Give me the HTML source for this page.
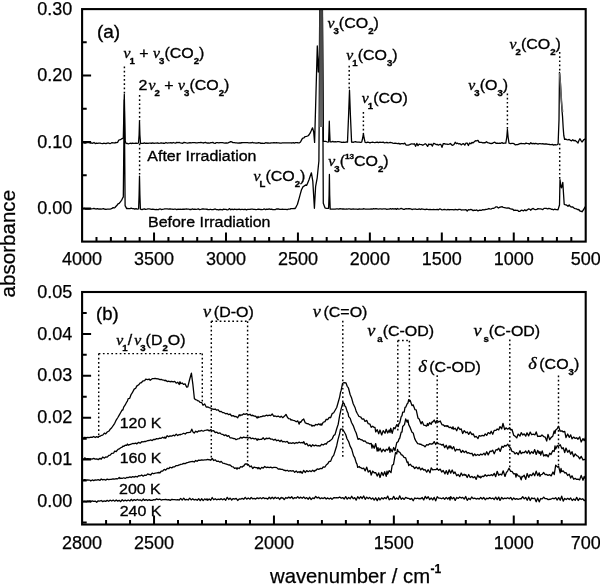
<!DOCTYPE html>
<html><head><meta charset="utf-8"><style>html,body{margin:0;padding:0;background:#fff;}svg{display:block;will-change:transform;}</style></head>
<body><svg width="600" height="585" viewBox="0 0 600 585">
<defs><clipPath id="ca"><rect x="82.1" y="9.1" width="503.60" height="232.50"/></clipPath><clipPath id="cb"><rect x="82.1" y="292.0" width="503.60" height="232.50"/></clipPath><linearGradient id="gcol" x1="0" y1="0" x2="0" y2="1"><stop offset="0" stop-color="#444"/><stop offset="0.6" stop-color="#555"/><stop offset="1" stop-color="#6a6a6a"/></linearGradient></defs>
<rect width="600" height="585" fill="#fff"/>
<g clip-path="url(#ca)">
<path d="M83.20 142.60 84.40 143.13 85.60 143.14 86.80 142.59 88.00 142.71 89.20 142.69 90.40 143.13 92.00 143.00 92.80 143.28 94.00 142.40 95.20 143.63 96.40 143.08 97.60 143.38 98.80 143.12 100.00 143.20 101.20 143.41 102.40 143.58 103.60 143.27 104.80 143.34 106.00 143.68 107.20 143.18 108.40 143.01 110.00 143.60 110.80 143.27 112.00 142.69 113.20 142.93 114.40 142.91 115.00 143.00 115.60 142.36 116.80 142.60 117.60 142.40 118.70 140.30 119.20 139.88 120.40 139.66 121.00 139.30 121.60 138.89 122.80 138.42 123.30 138.00 124.30 94.50 125.20 141.00 126.00 143.40 127.60 143.52 128.80 143.77 130.00 143.22 131.20 143.42 131.80 143.60 132.40 143.12 133.60 143.47 134.80 143.46 136.00 143.04 137.20 143.46 138.50 143.00 139.10 135.00 139.50 121.00 139.90 135.00 140.50 143.30 142.00 143.44 143.20 143.42 144.40 142.82 145.60 143.33 146.80 143.17 148.00 143.41 149.20 143.10 150.00 143.20 151.60 143.25 152.80 142.93 154.00 143.27 155.20 143.07 156.40 143.19 157.60 142.92 158.80 143.29 160.00 143.15 161.20 142.93 162.40 143.11 163.60 143.23 164.80 143.34 166.00 142.50 167.20 143.07 168.40 142.94 170.00 142.80 170.80 142.55 172.00 143.10 173.20 142.49 174.40 142.92 175.60 143.09 176.80 142.39 178.00 142.70 179.20 142.45 180.40 142.82 181.60 143.12 182.80 143.24 184.00 142.33 185.20 142.61 186.40 142.91 187.60 143.12 188.80 142.84 190.00 142.56 191.20 142.80 192.40 142.72 193.60 142.67 194.80 142.54 196.00 142.81 197.20 142.78 198.40 142.68 200.00 142.70 200.80 142.40 202.00 142.59 203.20 143.00 204.40 142.67 205.60 142.38 206.80 143.04 208.00 142.85 209.20 143.23 210.40 142.75 211.60 142.63 212.80 142.41 214.00 143.06 215.20 143.36 216.40 142.57 217.60 142.61 218.80 142.91 220.00 142.58 221.20 142.71 222.40 142.70 223.60 142.83 224.80 143.04 226.00 142.80 227.20 143.01 228.00 142.80 229.60 142.16 230.70 141.60 232.00 141.89 233.00 142.70 234.40 142.57 235.60 142.85 236.80 142.85 238.00 143.04 239.20 142.93 240.40 142.99 241.60 142.74 242.80 142.61 244.00 142.61 245.20 142.68 246.40 142.54 247.60 142.68 248.80 142.80 250.00 142.88 251.20 142.76 252.40 142.41 253.60 142.84 254.80 142.91 256.00 143.12 257.20 143.01 258.40 142.74 260.00 142.90 260.80 143.36 262.00 143.07 263.20 143.31 264.40 143.38 265.60 142.72 266.80 142.99 268.00 143.00 269.20 143.03 270.40 143.02 271.60 142.95 272.80 142.94 274.00 142.56 275.20 142.86 276.40 142.73 277.60 142.93 278.80 142.80 280.00 143.04 281.20 143.08 282.40 142.97 283.60 142.97 284.80 142.92 286.00 142.80 287.20 142.86 288.40 142.79 290.00 142.90 290.80 142.89 292.00 143.01 293.20 142.57 294.40 143.05 295.60 142.67 296.80 142.67 298.00 142.77 299.50 142.80 300.50 142.00 301.60 139.86 302.30 138.70 302.80 138.16 304.00 137.79 304.70 137.00 305.20 136.57 306.40 136.44 307.70 136.00 308.80 135.12 310.10 133.20 311.20 130.84 312.50 127.80 313.70 131.90 314.60 142.40 316.00 92.65 317.30 46.00 318.30 72.00 319.40 55.00 319.75 10.00 319.80 -60.00 320.80 -60.03 322.40 -60.00 322.45 10.00 323.40 141.40 324.40 141.35 325.60 141.30 326.80 141.75 328.00 142.17 328.60 141.80 329.00 131.00 329.30 121.20 329.60 131.00 330.10 141.90 331.60 141.94 332.80 141.35 334.00 141.99 335.20 141.70 336.40 141.80 337.60 141.61 338.80 141.61 340.00 141.77 341.20 142.24 342.40 142.47 343.60 142.05 344.80 142.35 346.00 142.01 347.50 142.10 348.60 115.00 349.50 90.20 350.40 115.00 351.60 142.10 353.20 142.27 354.40 141.90 355.60 141.74 356.80 142.09 358.00 142.11 359.20 142.08 360.40 142.46 361.70 142.20 362.70 138.00 363.40 133.50 364.10 138.00 365.10 142.30 366.40 142.58 367.60 142.17 368.80 142.48 370.00 142.84 371.20 142.49 372.40 142.07 373.60 142.42 374.80 142.60 376.00 142.33 377.20 142.06 378.40 142.66 380.00 142.20 380.80 142.40 382.00 142.33 383.20 142.06 384.40 142.85 385.60 142.68 386.80 142.31 388.00 142.91 389.20 142.68 390.40 142.30 391.60 142.74 392.80 143.15 394.00 143.39 395.00 143.20 396.40 143.33 397.60 143.56 398.80 143.27 400.00 144.09 401.20 143.58 402.40 143.72 403.60 143.91 404.80 143.14 406.00 145.00 407.20 145.09 408.40 145.14 409.60 144.68 410.80 144.15 412.00 143.75 413.20 144.23 414.40 143.76 415.60 146.32 416.80 143.38 418.00 145.60 419.20 144.08 420.00 144.40 421.60 144.58 422.80 145.24 424.00 144.46 425.20 143.74 426.40 144.59 427.60 146.35 428.80 143.98 430.00 144.54 431.20 144.17 432.40 146.11 433.60 143.34 434.80 143.69 436.00 144.57 437.20 144.40 438.40 145.21 440.00 144.30 440.80 144.37 442.00 147.35 443.20 143.77 444.40 143.65 445.60 144.08 446.80 144.04 448.00 144.48 449.20 144.05 450.40 143.52 451.60 144.78 452.80 145.30 454.00 144.51 455.20 142.24 456.40 143.65 457.60 143.20 458.80 143.98 460.00 143.60 461.20 144.89 462.40 143.89 463.60 143.76 464.80 145.18 466.00 143.03 467.20 143.13 468.40 145.52 469.60 143.01 470.80 143.80 472.00 142.50 473.20 142.83 474.40 141.63 475.60 140.73 476.30 140.80 476.80 140.75 478.00 140.45 479.20 142.43 480.00 142.40 481.60 142.39 482.80 142.88 484.00 142.71 485.20 142.74 486.40 141.79 487.60 142.62 488.80 142.94 490.00 143.36 491.20 143.49 492.40 143.40 493.60 142.54 494.80 142.22 496.00 143.24 497.20 143.10 498.40 143.47 500.00 143.20 500.80 143.28 502.00 142.68 503.20 143.36 504.40 143.04 505.80 143.20 506.80 137.00 507.40 129.50 508.10 137.00 509.00 143.20 510.40 143.56 512.00 143.40 512.80 143.41 514.00 143.70 515.20 144.83 516.70 144.60 517.60 144.67 518.80 144.10 520.00 143.60 521.20 143.34 522.40 143.64 523.60 143.69 524.80 143.82 526.00 143.16 527.20 143.39 528.40 143.57 529.60 144.16 530.80 142.77 532.00 143.75 533.20 143.41 534.40 143.75 535.60 143.43 536.80 143.73 538.00 144.15 539.20 143.72 540.00 143.60 541.60 143.86 542.80 143.56 544.00 144.11 545.00 144.00 546.40 143.86 547.60 144.25 548.80 144.30 550.00 144.50 551.20 144.53 552.40 144.41 553.60 145.15 555.00 144.70 556.00 144.98 557.20 144.56 558.10 144.20 559.00 120.00 559.50 72.30 560.30 80.00 561.00 95.00 561.80 108.00 562.50 116.00 563.20 128.00 563.80 135.50 564.60 139.30 565.60 139.01 566.80 139.67 568.00 139.78 569.20 139.40 570.00 140.10 571.60 140.92 572.80 139.69 574.00 140.90 575.00 140.30 576.40 141.39 578.00 143.00 578.80 140.77 580.00 138.70 581.20 140.85 582.00 142.00 584.00 139.50 584.80 139.17 586.00 140.00" stroke="#000" stroke-width="1.3" fill="none" stroke-linejoin="round"/>
<path d="M559.6 73 L561.4 100 L562.6 112" stroke="#666" stroke-width="1.6" fill="none"/>
<path d="M83.20 208.80 84.40 208.36 85.60 209.10 86.80 208.89 88.00 209.12 89.20 209.13 90.40 208.81 91.60 208.86 92.80 208.69 94.00 208.41 95.20 208.91 96.40 208.99 97.60 208.70 98.80 209.16 100.00 209.00 101.20 209.13 102.40 208.85 103.60 208.63 104.80 209.29 106.00 209.27 107.20 209.11 108.40 209.06 110.00 209.20 110.80 208.89 112.00 208.39 113.20 207.61 114.40 207.90 115.00 207.50 115.60 206.76 116.80 205.46 117.30 205.00 118.00 203.85 119.20 203.29 120.40 201.89 120.90 201.20 121.60 200.29 122.80 197.67 123.30 197.00 124.30 100.00 125.10 205.60 126.70 208.60 127.60 208.48 128.80 208.61 130.00 208.72 131.20 208.22 132.40 208.53 133.60 208.56 134.80 209.13 136.00 208.59 137.20 209.17 138.60 208.80 139.10 195.00 139.50 176.20 139.90 195.00 140.40 209.20 142.00 209.63 143.20 209.07 144.40 208.89 145.60 209.46 146.80 209.22 148.00 208.89 149.20 208.93 150.40 209.10 151.60 209.44 152.80 209.13 154.00 209.36 155.20 209.61 156.40 209.52 157.60 209.56 158.80 209.51 160.00 208.80 161.20 209.51 162.40 209.28 163.60 209.17 164.80 208.93 166.00 208.80 167.20 208.92 168.40 209.19 169.60 208.91 170.80 209.00 172.00 209.05 173.20 209.37 174.40 209.13 175.60 209.16 176.80 209.53 178.00 209.12 179.20 209.35 180.00 209.20 181.60 209.29 182.80 209.24 184.00 209.26 185.20 209.11 186.40 208.97 187.60 209.16 188.80 209.13 190.00 209.51 191.20 209.48 192.40 208.96 193.60 209.42 194.80 209.15 196.00 209.39 197.20 209.17 198.40 208.92 199.60 209.55 200.80 209.42 202.00 209.00 203.20 208.84 204.40 209.19 205.60 209.03 206.80 209.24 208.00 209.50 209.20 209.71 210.40 209.26 211.60 209.70 212.80 209.66 214.00 209.26 215.20 208.96 216.40 209.60 217.60 209.54 218.80 209.98 220.00 209.40 221.20 209.59 222.40 209.82 223.60 209.13 224.80 209.44 226.00 209.32 227.20 209.82 228.40 209.52 229.60 208.61 230.80 209.72 232.00 209.14 233.20 209.56 234.40 209.25 235.60 209.42 236.80 209.52 238.00 209.41 239.20 209.12 240.40 209.70 241.60 209.45 242.80 209.34 244.00 209.52 245.20 209.21 246.40 209.81 247.60 209.39 248.80 209.42 250.00 209.42 251.20 209.10 252.40 209.03 253.60 209.37 254.80 209.41 256.00 209.65 257.20 209.42 258.40 209.04 260.00 209.30 260.80 209.51 262.00 209.55 263.20 209.38 264.40 208.98 265.60 209.58 266.80 209.10 268.00 209.42 269.20 208.88 270.40 209.46 271.60 209.07 272.80 209.53 274.00 209.70 275.20 209.55 276.40 208.96 277.60 209.01 278.80 209.02 280.00 209.40 281.20 209.32 282.40 209.27 283.60 209.30 284.80 209.37 286.00 209.38 287.20 209.64 288.40 209.20 290.00 209.20 290.80 208.64 292.00 208.63 293.20 208.65 294.40 208.38 295.00 208.60 295.60 207.84 296.80 205.42 297.40 204.50 298.00 202.22 299.20 198.08 300.40 193.61 301.50 189.80 303.10 186.60 304.00 186.11 305.60 185.00 306.70 185.30 307.60 183.17 308.90 180.00 310.00 176.82 311.40 172.80 312.80 181.10 313.60 194.59 314.40 208.30 315.60 186.70 317.20 177.80 318.40 165.79 318.90 161.00 319.85 10.00 319.90 -60.00 320.80 -59.72 322.30 -60.00 322.35 10.00 323.30 203.30 324.40 206.25 325.00 207.80 325.60 208.09 326.80 208.30 328.00 208.27 328.60 208.30 329.10 195.00 329.40 174.40 329.70 195.00 330.20 209.20 331.60 209.09 332.80 209.14 334.00 209.09 335.20 209.13 336.40 208.87 337.60 208.81 338.80 209.14 340.00 208.72 341.20 208.91 342.40 208.98 343.60 208.88 344.80 209.19 346.00 209.02 347.20 209.10 348.40 208.86 349.60 208.93 350.80 209.23 352.00 209.19 353.20 208.98 354.40 209.18 355.60 209.13 356.80 209.12 358.00 209.47 359.20 208.97 360.40 209.17 361.60 209.16 362.80 208.99 364.00 208.76 365.20 209.21 366.40 209.10 367.60 209.04 368.80 209.03 370.00 209.03 371.20 208.79 372.40 209.08 373.60 208.55 374.80 208.99 376.00 208.62 377.20 208.90 378.40 209.16 379.60 208.91 380.80 208.85 382.00 209.09 383.20 208.89 384.40 208.85 385.60 208.85 386.80 209.32 388.00 209.10 389.20 209.05 390.40 208.63 391.60 209.08 392.80 208.59 394.00 209.03 395.20 208.63 396.40 209.39 397.60 208.47 398.80 209.20 400.00 208.90 401.20 208.46 402.40 208.86 403.60 209.30 404.80 209.24 406.00 208.55 407.20 208.86 408.40 208.71 409.60 208.76 410.80 208.88 412.00 209.51 413.20 209.10 414.40 209.03 415.60 209.02 416.80 209.29 418.00 209.31 419.20 208.92 420.40 209.54 421.60 208.92 422.80 209.13 424.00 209.33 425.20 209.66 426.40 209.17 427.60 209.34 428.80 209.61 430.00 209.46 431.20 209.60 432.40 209.60 433.60 209.42 434.80 209.53 436.00 209.62 437.20 209.40 438.40 209.82 439.60 208.94 440.80 209.22 442.00 209.83 443.20 209.60 444.40 209.34 445.60 209.62 446.80 209.81 448.00 209.42 449.20 209.76 450.00 209.60 451.60 209.59 452.80 209.62 454.00 209.97 455.20 209.37 456.40 209.60 457.60 209.93 458.80 209.38 460.00 209.28 461.20 209.99 462.40 209.83 463.60 209.80 464.80 209.92 466.00 209.55 467.20 210.98 468.40 209.58 469.60 209.80 470.80 209.44 472.00 209.85 473.20 210.66 474.40 210.07 475.60 210.34 476.80 209.90 478.00 210.92 479.20 210.23 480.00 210.20 481.60 210.30 482.80 209.61 484.00 209.89 485.20 209.51 486.40 209.40 487.60 209.17 488.80 208.52 490.00 208.80 491.20 209.02 492.40 208.30 493.60 208.29 494.80 207.74 496.00 206.81 497.20 206.95 498.40 207.99 500.00 207.10 500.80 207.01 502.00 206.68 503.20 207.30 504.40 207.55 505.60 207.80 506.80 208.05 508.00 207.97 509.20 208.17 510.00 208.60 511.60 209.15 512.80 209.26 514.00 210.49 515.20 210.07 516.40 210.37 517.60 210.30 518.80 211.44 520.00 211.30 521.20 210.25 522.40 210.33 523.60 210.89 524.80 209.79 526.00 210.76 527.20 209.89 528.40 208.92 530.00 209.40 530.80 210.20 532.00 208.80 533.20 208.50 534.40 209.33 535.60 209.65 536.80 209.42 538.00 208.66 539.20 208.85 540.40 208.84 541.60 209.19 542.80 209.60 544.00 208.38 545.00 208.40 546.40 208.35 547.60 208.96 548.80 208.32 550.00 208.54 551.20 209.29 552.00 209.20 553.60 209.78 554.80 209.16 556.00 209.60 557.20 209.64 558.00 209.80 559.50 205.00 560.00 179.70 560.80 185.67 561.50 187.90 562.00 185.91 562.80 182.40 563.60 195.00 564.20 204.30 566.00 205.00 566.80 205.19 568.00 206.29 569.20 204.95 570.40 206.56 572.00 207.00 572.80 206.82 574.00 208.18 575.20 208.64 576.40 208.83 578.00 209.80 578.80 209.45 580.00 211.11 581.20 211.23 582.00 211.80 584.00 209.00 585.00 207.00 586.00 207.00" stroke="#000" stroke-width="1.3" fill="none" stroke-linejoin="round"/>
<rect x="319.3" y="9" width="3.6" height="118" fill="url(#gcol)"/>
</g>
<g clip-path="url(#cb)">
<path d="M83.20 437.60 84.70 437.32 86.20 437.57 87.70 437.35 89.20 437.70 91.00 437.16 92.20 437.39 93.70 436.49 95.20 437.53 96.70 436.61 98.20 437.39 99.00 436.17 99.70 436.44 101.20 435.47 102.70 435.12 104.40 433.16 105.70 433.80 107.20 432.00 109.00 431.03 110.20 429.16 111.70 427.75 113.50 425.07 114.70 423.28 116.20 420.03 118.00 417.26 119.20 415.12 120.70 412.49 122.20 409.90 122.80 410.13 123.70 407.06 125.20 404.95 126.70 402.04 127.40 401.16 128.20 398.57 129.70 398.27 131.20 394.31 132.20 392.97 134.20 389.14 135.70 388.20 136.70 386.10 138.70 384.80 140.20 382.93 141.20 382.78 143.20 380.79 144.70 380.56 145.70 379.13 147.70 379.66 149.20 379.04 150.20 380.24 152.20 378.69 153.70 378.70 155.20 378.28 156.50 378.75 158.20 378.85 160.00 379.62 161.20 379.30 162.70 380.03 164.20 380.10 165.00 380.85 165.70 380.22 167.20 381.52 168.70 381.05 170.00 381.75 171.70 381.27 173.20 381.81 174.70 381.29 176.20 383.18 177.70 382.20 179.20 384.45 180.00 381.79 180.70 383.69 182.20 382.97 183.70 384.45 185.00 383.76 186.70 387.13 187.80 386.82 189.50 380.00 191.40 373.20 192.80 383.80 194.40 398.74 195.70 399.61 197.20 400.24 198.00 400.91 198.70 400.86 200.20 402.45 201.70 402.55 203.00 405.27 204.70 403.98 206.20 407.04 208.00 406.99 209.20 407.62 210.70 408.07 212.20 409.22 213.00 408.98 213.70 409.36 215.20 409.02 216.70 410.19 218.00 409.74 219.70 411.64 221.20 411.38 222.70 412.68 224.00 412.68 225.70 413.79 227.20 413.43 228.70 414.64 230.00 413.97 231.70 415.99 233.20 415.60 234.70 416.60 236.00 416.46 237.70 417.74 239.20 414.78 240.00 415.78 240.70 414.95 242.20 415.10 243.70 413.78 245.00 414.31 246.70 413.66 248.20 414.86 250.00 414.27 251.20 415.61 252.70 415.25 254.20 416.17 255.70 416.23 257.20 417.96 258.00 416.44 258.70 417.53 260.20 416.75 261.70 416.69 263.20 415.86 264.70 416.08 266.20 415.24 268.00 415.75 269.20 415.03 270.70 415.64 272.20 413.98 273.70 416.26 275.20 416.01 276.70 416.70 278.20 416.06 280.00 417.22 281.20 416.14 282.70 417.67 284.60 416.12 286.00 414.40 287.40 417.29 288.70 418.70 290.20 418.95 291.00 420.02 291.70 419.77 293.20 420.41 294.70 420.72 296.20 421.76 297.70 420.83 299.20 424.17 300.00 421.75 300.70 422.28 302.20 420.09 303.00 419.63 303.70 419.02 305.20 422.82 306.00 423.07 306.70 423.54 308.20 423.76 309.70 424.84 311.20 424.80 312.00 426.25 312.70 425.38 314.20 425.96 315.70 424.44 317.20 425.00 318.70 423.87 320.20 425.12 321.00 423.78 321.70 425.15 323.20 422.26 325.00 421.63 326.20 419.27 327.70 419.61 329.20 417.35 330.60 417.74 332.20 413.60 333.70 412.73 335.00 410.49 336.70 407.52 338.20 402.23 339.70 396.85 340.50 392.40 341.20 390.24 342.50 383.52 344.00 382.56 346.00 382.92 347.20 386.25 348.50 388.22 350.20 394.76 351.50 397.69 353.20 403.77 355.00 407.42 356.20 411.35 357.30 413.48 359.00 416.46 360.70 417.00 362.20 419.09 363.70 418.80 365.00 421.44 366.70 420.36 368.20 423.70 370.00 424.15 371.20 427.29 372.70 426.25 374.20 427.47 375.00 427.48 375.70 431.94 377.20 429.63 378.70 433.76 380.00 429.99 381.70 434.94 383.20 430.60 385.00 433.25 386.20 429.29 387.70 433.02 389.20 429.96 390.00 432.58 390.70 428.27 392.20 433.30 393.70 427.56 395.00 428.76 396.70 424.72 398.20 426.51 399.00 423.44 399.70 422.92 401.20 416.64 402.00 415.72 402.70 412.06 404.20 412.01 405.00 407.45 405.70 407.17 407.20 403.71 408.00 402.92 408.70 399.57 409.60 401.20 410.20 400.56 412.00 405.63 413.20 404.91 415.00 409.69 416.20 409.81 418.00 418.12 419.20 418.92 421.00 423.83 422.20 421.61 423.70 425.04 425.00 425.34 426.70 426.03 427.50 423.51 428.20 425.47 429.70 422.68 431.20 424.24 432.00 421.93 432.70 422.01 434.20 420.03 435.70 423.13 437.00 420.36 438.70 421.97 440.20 420.97 442.00 424.79 443.20 424.79 444.70 426.31 446.20 425.58 447.00 426.55 447.70 425.76 449.20 427.61 450.70 427.24 452.20 428.70 453.00 426.74 453.70 429.21 455.20 428.23 456.70 430.73 458.20 427.07 460.00 429.52 461.20 428.83 462.70 433.47 464.20 430.63 466.00 432.73 467.20 431.96 468.70 434.33 470.20 431.84 472.00 434.69 473.20 433.86 474.70 437.09 476.20 436.41 478.00 438.56 479.20 435.62 480.70 436.22 482.20 435.38 484.00 435.78 485.20 433.90 486.70 435.40 488.20 432.56 490.00 433.78 491.20 431.23 492.70 434.20 494.20 430.37 496.00 430.40 497.20 428.98 498.70 429.94 500.00 426.56 501.70 428.75 503.00 423.50 504.70 429.59 506.00 427.87 507.70 429.18 509.50 427.62 510.70 429.86 512.00 429.45 513.70 435.28 515.00 436.10 516.70 437.93 518.20 434.08 520.00 435.95 521.20 432.65 522.70 434.95 524.20 433.86 525.70 436.14 527.00 432.82 528.70 435.81 530.20 432.06 531.70 434.74 533.20 434.14 535.00 434.83 536.20 431.96 537.70 436.48 539.20 436.11 540.70 436.32 542.00 434.97 543.70 436.53 545.20 437.13 546.70 441.01 548.00 434.38 549.70 439.74 551.00 437.63 552.70 436.30 554.20 430.83 555.00 433.49 555.70 429.91 557.20 428.80 558.50 426.27 560.20 431.18 562.00 430.81 563.20 431.98 564.70 431.31 566.00 437.51 567.70 433.99 569.20 437.35 570.70 434.85 572.00 438.79 573.70 437.08 575.20 438.41 576.70 437.72 578.00 439.24 579.70 436.88 581.20 442.00 583.00 438.68 584.20 440.68 586.00 436.55" stroke="#000" stroke-width="1.3" fill="none" stroke-linejoin="round"/>
<path d="M83.20 459.57 84.70 457.83 86.20 459.08 87.70 458.54 89.20 458.92 90.70 458.88 92.00 459.10 93.70 458.36 95.20 459.16 96.70 458.80 98.20 459.65 100.00 458.38 101.20 459.21 102.70 457.05 104.40 458.11 105.70 457.00 107.20 457.16 109.00 455.31 110.20 455.15 111.70 453.32 113.50 453.20 114.70 451.07 116.20 451.51 118.00 449.29 119.20 448.96 120.70 447.76 122.20 447.14 122.80 446.14 123.70 446.38 125.20 445.19 126.70 445.30 127.40 444.00 128.20 445.21 129.70 444.54 131.20 444.03 132.70 443.50 134.20 443.60 135.70 443.10 136.70 443.86 138.70 442.34 140.20 443.20 141.70 441.68 143.20 441.81 144.70 441.36 145.70 441.49 147.70 440.68 149.20 440.50 150.70 439.97 152.20 440.56 153.70 439.31 155.20 439.50 156.50 438.67 158.20 438.79 159.70 438.07 161.20 438.32 162.70 437.22 164.20 438.10 165.00 436.96 165.70 438.24 167.20 435.70 168.70 436.75 170.00 435.92 171.70 436.07 173.20 435.19 174.70 435.77 176.20 434.09 177.70 435.60 179.20 434.49 180.00 434.88 180.70 434.37 182.20 434.05 183.70 433.24 185.20 434.04 186.70 432.66 188.00 432.54 189.70 432.30 190.50 432.20 191.20 430.58 191.80 429.20 193.00 432.00 194.20 433.15 195.70 431.21 197.20 432.16 198.70 430.80 200.00 431.16 201.70 430.46 203.20 431.21 204.70 430.48 206.20 430.21 207.70 429.83 209.20 430.90 211.00 429.61 212.20 430.84 213.70 430.73 215.20 432.53 216.70 432.10 218.20 433.39 220.00 432.84 221.20 434.08 222.70 434.34 224.20 435.55 225.70 434.83 227.20 436.28 228.70 435.68 230.00 437.76 231.70 437.80 233.20 438.52 234.70 438.58 236.00 439.71 237.70 438.86 239.20 438.72 240.70 437.19 242.00 438.12 243.70 437.05 245.20 437.52 246.70 437.32 248.20 438.18 250.00 437.41 251.20 438.75 252.70 438.13 254.20 439.01 255.70 438.46 257.20 440.27 258.00 438.74 258.70 439.59 260.20 439.41 261.70 439.27 263.20 437.81 264.70 439.59 266.20 438.25 268.00 438.62 269.20 437.95 270.70 439.12 272.20 439.05 273.70 440.17 275.20 439.24 276.70 440.78 278.20 440.05 280.00 441.48 281.20 440.25 282.70 441.93 284.20 441.49 285.70 442.03 287.20 441.34 288.70 443.26 290.00 442.90 291.70 443.39 293.20 442.71 294.70 443.56 296.20 442.52 297.70 443.04 299.20 442.13 300.70 442.95 302.20 442.42 303.00 443.12 303.70 441.66 305.20 444.52 306.70 443.41 308.20 445.87 310.00 444.90 311.20 446.60 312.70 444.71 314.20 445.89 315.70 445.07 317.20 445.86 318.70 445.63 320.00 446.16 321.70 444.25 323.20 445.05 325.00 443.65 326.20 444.21 327.70 441.98 329.20 441.38 330.60 440.27 332.20 438.87 333.70 435.58 335.00 434.65 336.70 428.73 338.20 424.18 339.70 415.40 340.50 411.81 341.20 408.62 343.00 402.49 344.20 403.78 345.00 406.33 345.70 406.79 347.20 411.58 348.00 412.96 348.70 416.60 350.20 418.41 351.50 422.52 353.20 425.56 355.00 430.49 356.20 432.98 358.00 439.36 359.20 438.59 360.70 439.71 362.20 439.99 363.70 441.26 365.00 440.88 366.70 442.90 368.20 442.99 369.70 443.83 371.20 443.46 372.00 448.15 372.70 444.98 374.20 448.26 375.70 443.55 377.20 451.01 378.00 447.72 378.70 450.91 380.20 448.30 381.70 451.90 383.20 449.25 385.00 451.45 386.20 449.19 387.70 450.17 389.20 447.03 390.00 452.32 390.70 448.79 392.20 451.78 393.70 447.49 395.00 450.64 396.70 442.84 398.20 441.48 399.00 438.96 399.70 438.23 401.20 432.11 402.00 432.00 402.70 426.50 404.50 424.60 405.70 418.95 407.20 422.19 408.00 420.01 408.70 424.62 410.20 427.65 412.00 432.31 413.20 433.04 414.70 438.61 416.00 441.14 417.70 443.62 419.20 443.84 420.00 444.42 420.70 444.06 422.20 445.20 423.70 445.55 425.00 446.85 426.70 444.56 428.20 445.09 429.70 443.69 431.20 444.23 432.00 443.71 432.70 443.82 434.20 441.62 435.70 444.48 437.00 442.28 438.70 443.87 440.20 444.06 442.00 445.13 443.20 444.21 444.70 447.67 446.20 445.26 447.70 449.07 449.20 445.84 450.00 447.99 450.70 446.03 452.20 448.94 453.70 446.67 455.20 451.10 456.70 449.20 458.00 449.92 459.70 449.29 461.20 452.53 462.70 450.51 464.20 452.46 466.00 451.09 467.20 453.10 468.70 452.70 470.20 453.66 472.00 453.26 473.20 455.87 474.70 453.97 476.00 455.46 477.70 454.47 479.20 455.45 480.70 454.09 482.20 454.86 484.00 453.24 485.20 455.07 486.70 451.74 488.20 454.90 490.00 451.23 491.20 451.50 492.70 450.26 494.20 453.71 496.00 449.64 497.20 450.00 498.70 448.27 500.20 451.44 502.00 446.27 503.20 447.32 504.70 445.39 506.00 446.06 507.70 444.17 509.00 446.43 510.70 448.31 512.00 451.46 513.70 451.79 515.00 453.91 516.70 452.60 518.20 454.63 520.00 450.69 521.20 453.67 522.70 452.30 524.20 452.70 525.70 451.00 527.20 453.28 528.70 450.46 530.00 453.96 531.70 451.73 533.20 453.39 534.70 449.59 536.20 454.45 537.70 450.40 539.20 453.41 540.00 451.59 540.70 455.05 542.20 450.88 543.70 456.06 545.20 454.66 546.00 456.04 546.70 454.58 548.20 456.88 549.70 453.12 551.00 454.51 552.70 450.68 554.20 451.52 555.00 446.00 555.70 448.99 557.20 445.70 558.50 446.36 560.20 444.74 562.00 448.79 563.20 447.59 564.70 452.52 566.00 448.04 567.70 452.25 569.20 450.29 570.70 454.23 572.00 451.70 573.70 456.71 575.20 453.84 576.70 455.67 578.00 456.23 579.70 458.82 581.20 456.31 583.00 460.05 584.20 459.29 586.00 460.34" stroke="#000" stroke-width="1.3" fill="none" stroke-linejoin="round"/>
<path d="M83.20 480.02 84.70 479.70 86.20 480.07 87.70 479.97 89.20 480.22 90.00 480.08 90.70 480.95 92.20 479.95 93.70 480.62 95.20 479.91 96.70 480.19 98.20 479.69 100.00 480.38 101.20 478.99 102.70 479.88 104.20 479.48 105.70 480.11 107.20 479.05 108.70 479.60 110.00 479.39 111.70 479.23 113.20 478.79 114.70 479.07 116.20 478.60 117.70 478.87 119.20 477.51 120.00 478.59 120.70 478.07 122.20 478.47 123.70 477.78 125.20 478.44 126.70 477.47 128.20 477.65 130.00 476.91 131.20 477.54 132.70 476.56 134.20 477.17 135.70 476.37 137.20 476.99 138.70 475.71 140.00 475.95 141.70 474.96 143.20 476.19 144.70 475.05 146.20 475.36 147.70 473.94 149.20 474.62 150.00 474.47 150.70 475.02 152.20 473.06 153.70 473.75 155.20 473.14 156.70 472.96 158.20 472.51 160.00 472.73 161.20 471.23 162.70 471.00 164.20 469.35 165.70 470.17 167.20 468.28 168.70 468.70 170.00 467.24 171.70 467.91 173.20 466.88 174.70 466.80 176.20 465.56 177.70 465.53 179.20 464.91 180.00 464.81 180.70 464.29 182.20 464.09 183.70 463.34 185.20 463.65 186.70 462.74 188.20 462.45 190.00 461.80 191.20 461.57 192.70 461.29 194.20 462.00 195.70 460.53 197.20 461.30 198.70 460.03 200.00 460.44 201.70 459.80 203.20 460.03 204.70 459.81 206.20 459.83 207.70 459.35 209.20 459.87 210.00 459.76 210.70 460.21 212.20 458.47 213.70 460.49 215.20 459.79 216.70 461.35 218.20 461.08 220.00 462.32 221.20 461.35 222.70 463.15 224.20 463.30 225.70 463.98 227.20 464.46 228.70 464.99 230.00 464.86 231.70 466.54 233.20 466.89 234.70 468.46 236.20 467.89 237.00 469.23 237.70 467.84 239.20 468.52 240.70 466.71 242.20 467.15 243.00 466.08 243.70 465.99 245.20 463.98 247.00 463.83 248.20 464.47 250.00 466.82 251.20 465.92 252.70 468.51 254.20 467.05 255.70 467.60 257.20 467.74 258.00 468.80 258.70 467.54 260.20 469.18 261.70 467.37 263.20 468.07 264.70 466.45 266.20 467.61 267.70 467.17 269.20 467.59 270.70 467.13 272.20 467.82 273.70 467.34 275.00 467.39 276.70 467.64 278.20 469.03 279.70 469.00 281.20 469.36 282.70 469.43 284.20 470.51 285.00 470.17 285.70 470.85 287.20 470.23 288.70 471.22 290.20 470.56 291.70 471.12 293.20 470.60 294.70 472.32 296.20 471.05 297.70 472.48 299.20 471.61 300.00 472.72 300.70 471.41 302.20 473.23 303.70 470.33 305.20 472.50 306.70 470.61 308.20 471.67 309.70 470.68 311.20 471.61 312.70 470.18 314.20 471.49 315.00 470.33 315.70 470.56 317.20 468.95 318.70 469.41 320.20 468.45 322.00 468.67 323.20 466.99 325.00 467.03 326.20 465.00 327.70 463.78 329.20 461.40 330.60 461.39 332.20 457.22 333.70 455.33 335.00 451.32 336.70 445.71 338.00 439.57 339.70 433.37 340.50 429.24 341.70 429.13 342.70 429.20 344.00 431.53 345.70 434.54 347.00 438.72 348.70 441.73 350.00 445.93 351.70 449.08 353.50 455.65 354.70 457.55 356.20 462.67 357.00 464.08 357.70 467.45 359.20 466.52 360.00 467.49 360.70 467.56 362.20 468.71 363.70 468.18 365.20 470.83 366.70 467.14 368.20 472.02 370.00 470.42 371.20 475.03 372.70 471.09 374.20 472.74 375.70 472.55 377.20 476.07 378.70 472.91 380.00 477.47 381.70 472.30 383.20 475.56 384.70 471.79 386.20 476.40 387.00 471.09 387.70 474.04 389.20 470.63 391.00 472.66 392.20 465.19 393.50 464.42 395.50 452.55 396.70 453.93 397.50 449.45 398.20 451.42 400.00 452.53 401.20 454.65 402.70 455.38 404.00 457.30 405.70 457.96 407.20 462.62 408.00 461.89 408.70 465.58 410.20 464.12 412.00 466.39 413.20 466.49 414.70 468.52 416.20 467.03 418.00 468.78 419.20 467.22 420.70 469.89 422.20 468.27 423.70 470.02 425.00 469.52 426.70 472.18 428.20 469.71 430.00 472.78 431.20 467.85 432.70 469.90 434.20 469.55 435.70 469.72 437.00 468.85 438.70 470.35 440.20 469.10 441.70 472.07 443.20 470.53 445.00 473.90 446.20 470.61 447.70 474.32 449.20 469.80 450.70 473.15 452.20 470.04 453.70 473.59 455.00 471.97 456.70 475.77 458.20 474.50 459.70 476.65 461.20 473.00 462.70 475.63 464.20 474.27 465.00 475.40 465.70 474.60 467.20 477.51 468.70 474.53 470.20 477.49 472.00 476.37 473.20 477.79 474.70 476.67 476.20 479.36 477.70 475.11 479.20 477.26 480.00 476.29 480.70 477.91 482.20 476.22 483.70 476.54 485.20 474.76 486.70 476.16 488.20 475.06 490.00 475.58 491.20 474.66 492.70 475.62 494.20 473.39 495.70 476.63 497.20 471.30 498.70 475.21 500.00 474.14 501.70 474.95 503.20 470.81 505.00 476.44 506.20 472.92 507.70 470.76 509.00 468.22 510.70 471.39 512.00 471.37 513.70 473.94 515.20 473.72 516.00 477.17 516.70 473.78 518.20 475.99 519.70 476.07 521.20 479.82 522.00 476.31 522.70 476.88 524.20 475.18 525.70 479.40 527.20 473.52 528.70 477.37 530.00 474.56 531.70 475.67 533.20 473.00 534.70 475.77 536.20 471.16 537.70 475.64 539.20 472.82 540.00 476.30 540.70 474.78 542.20 474.24 543.70 472.51 545.20 474.71 546.70 474.47 548.00 475.39 549.70 474.69 551.20 475.88 553.00 472.05 554.20 474.54 555.70 465.15 557.50 467.11 558.70 466.53 560.20 472.93 561.00 468.51 561.70 471.62 563.20 470.86 564.70 472.98 566.00 472.57 567.70 475.50 569.20 474.11 570.70 478.02 572.00 475.75 573.70 479.25 575.20 478.41 576.70 479.43 578.00 479.12 579.70 479.79 581.20 475.36 583.00 480.25 584.20 476.45 586.00 479.82" stroke="#000" stroke-width="1.3" fill="none" stroke-linejoin="round"/>
<path d="M83.20 501.98 84.70 501.35 86.20 501.83 87.70 501.08 89.20 501.45 90.00 500.89 90.70 501.86 92.20 500.83 93.70 501.34 95.20 501.05 96.70 502.24 98.20 500.79 99.70 501.08 101.20 500.49 102.70 501.61 104.20 500.88 105.70 501.37 107.20 500.39 108.70 501.30 110.00 500.18 111.70 500.98 113.20 500.07 114.70 501.18 116.20 500.00 117.70 501.14 119.20 500.36 120.70 501.63 122.20 499.72 123.70 500.99 125.20 500.17 126.70 500.85 128.20 499.96 130.00 500.96 131.20 499.34 132.70 500.76 134.20 499.64 135.70 500.42 137.20 499.44 138.70 500.24 140.20 499.78 141.70 500.82 143.20 499.05 144.70 500.41 146.20 499.63 147.70 500.55 149.20 499.56 150.00 500.31 150.70 500.25 152.20 500.30 153.70 499.63 155.20 499.87 156.70 498.85 158.20 499.72 159.70 499.11 161.20 500.04 162.70 499.57 164.20 499.60 165.70 499.30 167.20 499.96 168.70 499.54 170.20 500.42 172.00 499.26 173.20 499.56 174.70 499.55 176.20 499.89 177.70 499.70 179.20 500.05 180.70 498.43 182.20 500.13 183.70 498.17 185.20 499.98 186.70 499.43 188.20 499.99 189.70 498.19 191.20 499.93 192.70 498.78 194.20 500.00 195.70 499.35 197.20 500.26 198.70 498.68 200.20 500.65 201.70 498.75 203.20 500.56 204.70 498.83 206.20 499.91 207.00 498.77 207.70 500.34 209.20 498.96 210.70 500.28 212.20 497.52 213.70 499.76 215.20 498.65 216.70 499.82 218.20 499.04 219.70 499.63 221.20 498.65 222.70 499.85 224.20 498.63 225.70 500.27 227.20 497.31 228.70 499.46 230.20 498.10 231.70 500.01 233.20 498.54 234.70 499.18 236.20 498.38 237.70 500.45 239.20 498.87 240.70 499.14 242.20 498.39 243.70 499.24 245.20 497.36 246.70 499.16 248.20 497.98 250.00 499.17 251.20 497.47 252.70 498.84 254.20 498.43 255.70 499.06 257.20 497.81 258.70 498.62 260.20 497.74 261.70 498.77 263.20 497.58 264.70 498.60 266.20 498.20 267.70 499.12 269.20 497.25 270.70 498.72 272.20 497.18 273.70 498.75 275.20 497.22 276.70 498.44 278.20 497.53 279.70 499.47 281.20 497.37 282.00 498.18 282.70 497.69 284.20 499.53 285.70 497.53 287.20 498.31 288.70 497.12 290.20 498.15 291.70 496.76 293.20 498.78 294.70 497.63 296.20 498.20 297.70 496.61 299.20 498.25 300.70 497.13 302.20 498.36 303.70 496.86 305.20 498.64 306.70 497.59 308.20 499.21 309.70 497.27 311.20 499.53 312.70 497.85 314.20 498.58 315.70 496.34 317.20 498.01 318.70 497.19 320.20 498.81 321.70 497.90 323.20 498.55 324.70 497.45 326.20 498.96 327.70 497.90 329.20 499.06 330.70 497.92 332.00 499.38 333.70 497.68 335.20 497.77 336.70 497.55 338.20 497.89 339.70 497.03 341.20 498.29 342.70 497.56 344.20 499.01 345.70 496.59 347.20 499.18 348.70 497.51 350.20 498.74 351.70 496.30 353.20 498.74 354.70 497.58 356.20 500.11 357.70 496.71 359.20 498.70 360.70 496.77 362.20 498.45 363.70 496.00 365.20 499.31 366.70 497.11 368.20 498.66 369.70 497.36 371.20 499.15 372.70 497.97 374.20 500.04 375.70 497.75 377.20 500.58 378.70 497.79 380.00 499.95 381.70 497.79 383.20 499.06 384.70 497.58 386.20 498.72 387.70 496.07 389.20 499.82 390.70 498.57 392.20 499.27 393.70 496.37 395.20 499.36 396.70 497.91 398.20 499.41 399.70 495.82 401.20 499.28 402.70 497.97 404.20 499.42 405.70 497.38 407.20 498.23 408.70 498.31 410.20 499.36 411.70 498.42 413.20 500.73 414.70 497.94 416.20 498.72 417.70 498.10 419.20 498.94 420.00 498.31 420.70 498.85 422.20 497.55 423.70 499.93 425.20 496.38 426.70 498.50 428.20 496.75 429.70 499.57 431.20 497.88 432.70 499.92 434.20 497.43 435.70 500.82 437.20 496.68 438.70 498.12 440.20 498.05 441.70 498.78 443.20 497.79 444.70 499.33 446.20 497.41 447.70 498.94 449.20 497.44 450.00 500.18 450.70 496.63 452.20 498.89 453.70 497.37 455.20 500.37 456.70 497.43 458.20 498.42 459.70 497.04 461.20 498.08 462.70 497.35 464.20 499.08 465.70 496.55 467.20 500.32 468.70 498.30 470.20 499.51 471.70 497.05 473.20 498.65 474.70 498.15 476.20 499.03 477.70 498.44 479.20 499.12 480.70 497.54 482.20 499.02 483.70 497.45 485.20 499.76 486.70 498.18 488.20 498.82 489.70 497.63 491.20 498.77 492.70 498.08 494.20 499.49 495.70 497.17 497.20 499.61 498.70 497.08 500.00 500.45 501.70 497.33 503.20 499.00 504.70 498.11 506.20 498.64 507.70 497.78 509.20 498.80 510.70 497.47 512.20 499.86 513.70 497.97 515.20 499.31 516.70 498.66 518.20 499.36 519.70 498.74 521.20 498.74 522.70 496.73 524.20 498.88 525.70 497.41 527.20 500.26 528.70 497.03 530.20 500.46 531.70 497.90 533.20 498.71 534.70 498.19 536.20 501.74 537.70 497.98 539.20 501.86 540.70 498.53 542.20 498.83 543.70 497.09 545.20 498.68 546.70 498.66 548.20 499.58 550.00 499.24 551.20 499.02 552.70 498.22 554.20 498.84 555.70 497.67 557.20 500.03 558.70 497.58 560.20 500.29 561.70 496.19 563.20 501.08 564.70 498.44 566.20 499.59 567.70 498.31 569.20 499.56 570.70 497.99 572.20 500.49 573.70 499.02 575.20 500.36 576.70 497.35 578.20 500.53 579.70 498.31 581.20 499.53 582.70 498.75 584.20 500.69 586.00 499.38" stroke="#000" stroke-width="1.3" fill="none" stroke-linejoin="round"/>
</g>
<rect x="82.1" y="9.1" width="503.60" height="232.50" fill="none" stroke="#000" stroke-width="2.1"/>
<rect x="82.1" y="292.0" width="503.60" height="232.50" fill="none" stroke="#000" stroke-width="2.1"/>
<path d="M96.49 241.60v-4.6 M110.88 241.60v-4.6 M125.27 241.60v-4.6 M139.65 241.60v-4.6 M154.04 241.60v-9 M168.43 241.60v-4.6 M182.82 241.60v-4.6 M197.21 241.60v-4.6 M211.60 241.60v-4.6 M225.99 241.60v-9 M240.37 241.60v-4.6 M254.76 241.60v-4.6 M269.15 241.60v-4.6 M283.54 241.60v-4.6 M297.93 241.60v-9 M312.32 241.60v-4.6 M326.71 241.60v-4.6 M341.09 241.60v-4.6 M355.48 241.60v-4.6 M369.87 241.60v-9 M384.26 241.60v-4.6 M398.65 241.60v-4.6 M413.04 241.60v-4.6 M427.43 241.60v-4.6 M441.81 241.60v-9 M456.20 241.60v-4.6 M470.59 241.60v-4.6 M484.98 241.60v-4.6 M499.37 241.60v-4.6 M513.76 241.60v-9 M528.15 241.60v-4.6 M542.53 241.60v-4.6 M556.92 241.60v-4.6 M571.31 241.60v-4.6 M82.10 42.31h4.6 M82.10 75.53h9 M82.10 108.74h4.6 M82.10 141.96h9 M82.10 175.17h4.6 M82.10 208.39h9 M106.08 524.50v-4.6 M130.06 524.50v-4.6 M154.04 524.50v-9 M178.02 524.50v-4.6 M202.00 524.50v-4.6 M225.99 524.50v-4.6 M249.97 524.50v-4.6 M273.95 524.50v-9 M297.93 524.50v-4.6 M321.91 524.50v-4.6 M345.89 524.50v-4.6 M369.87 524.50v-4.6 M393.85 524.50v-9 M417.83 524.50v-4.6 M441.81 524.50v-4.6 M465.80 524.50v-4.6 M489.78 524.50v-4.6 M513.76 524.50v-9 M537.74 524.50v-4.6 M561.72 524.50v-4.6 M82.10 312.95h4.6 M82.10 333.90h9 M82.10 354.85h4.6 M82.10 375.80h9 M82.10 396.75h4.6 M82.10 417.70h9 M82.10 438.65h4.6 M82.10 459.60h9 M82.10 480.55h4.6 M82.10 501.50h9 M82.10 522.45h4.6" stroke="#000" stroke-width="2" fill="none"/>
<text x="72.3" y="14.70" text-anchor="end" font-family="Liberation Sans, sans-serif" stroke="#000" stroke-width="0.25" font-size="18">0.30</text>
<text x="72.3" y="81.13" text-anchor="end" font-family="Liberation Sans, sans-serif" stroke="#000" stroke-width="0.25" font-size="18">0.20</text>
<text x="72.3" y="147.56" text-anchor="end" font-family="Liberation Sans, sans-serif" stroke="#000" stroke-width="0.25" font-size="18">0.10</text>
<text x="72.3" y="213.99" text-anchor="end" font-family="Liberation Sans, sans-serif" stroke="#000" stroke-width="0.25" font-size="18">0.00</text>
<text x="72.3" y="297.60" text-anchor="end" font-family="Liberation Sans, sans-serif" stroke="#000" stroke-width="0.25" font-size="18">0.05</text>
<text x="72.3" y="339.50" text-anchor="end" font-family="Liberation Sans, sans-serif" stroke="#000" stroke-width="0.25" font-size="18">0.04</text>
<text x="72.3" y="381.40" text-anchor="end" font-family="Liberation Sans, sans-serif" stroke="#000" stroke-width="0.25" font-size="18">0.03</text>
<text x="72.3" y="423.30" text-anchor="end" font-family="Liberation Sans, sans-serif" stroke="#000" stroke-width="0.25" font-size="18">0.02</text>
<text x="72.3" y="465.20" text-anchor="end" font-family="Liberation Sans, sans-serif" stroke="#000" stroke-width="0.25" font-size="18">0.01</text>
<text x="72.3" y="507.10" text-anchor="end" font-family="Liberation Sans, sans-serif" stroke="#000" stroke-width="0.25" font-size="18">0.00</text>
<text x="82.10" y="265.4" text-anchor="middle" font-family="Liberation Sans, sans-serif" stroke="#000" stroke-width="0.25" font-size="18">4000</text>
<text x="154.04" y="265.4" text-anchor="middle" font-family="Liberation Sans, sans-serif" stroke="#000" stroke-width="0.25" font-size="18">3500</text>
<text x="225.99" y="265.4" text-anchor="middle" font-family="Liberation Sans, sans-serif" stroke="#000" stroke-width="0.25" font-size="18">3000</text>
<text x="297.93" y="265.4" text-anchor="middle" font-family="Liberation Sans, sans-serif" stroke="#000" stroke-width="0.25" font-size="18">2500</text>
<text x="369.87" y="265.4" text-anchor="middle" font-family="Liberation Sans, sans-serif" stroke="#000" stroke-width="0.25" font-size="18">2000</text>
<text x="441.81" y="265.4" text-anchor="middle" font-family="Liberation Sans, sans-serif" stroke="#000" stroke-width="0.25" font-size="18">1500</text>
<text x="513.76" y="265.4" text-anchor="middle" font-family="Liberation Sans, sans-serif" stroke="#000" stroke-width="0.25" font-size="18">1000</text>
<text x="585.70" y="265.4" text-anchor="middle" font-family="Liberation Sans, sans-serif" stroke="#000" stroke-width="0.25" font-size="18">500</text>
<text x="82.10" y="548.8" text-anchor="middle" font-family="Liberation Sans, sans-serif" stroke="#000" stroke-width="0.25" font-size="18">2800</text>
<text x="154.04" y="548.8" text-anchor="middle" font-family="Liberation Sans, sans-serif" stroke="#000" stroke-width="0.25" font-size="18">2500</text>
<text x="273.95" y="548.8" text-anchor="middle" font-family="Liberation Sans, sans-serif" stroke="#000" stroke-width="0.25" font-size="18">2000</text>
<text x="393.85" y="548.8" text-anchor="middle" font-family="Liberation Sans, sans-serif" stroke="#000" stroke-width="0.25" font-size="18">1500</text>
<text x="513.76" y="548.8" text-anchor="middle" font-family="Liberation Sans, sans-serif" stroke="#000" stroke-width="0.25" font-size="18">1000</text>
<text x="585.70" y="548.8" text-anchor="middle" font-family="Liberation Sans, sans-serif" stroke="#000" stroke-width="0.25" font-size="18">700</text>
<text transform="translate(15.3 243.7) rotate(-90)" text-anchor="middle" font-family="Liberation Sans, sans-serif" stroke="#000" stroke-width="0.25" font-size="20.6">absorbance</text>
<text x="270" y="583" font-family="Liberation Sans, sans-serif" stroke="#000" stroke-width="0.25" font-size="20.3">wavenumber / cm<tspan dy="-10.5" dx="0.5" font-size="12" font-weight="bold">-1</tspan></text>
<text transform="translate(96.9 38.0) scale(1.0 1)" font-family="Liberation Sans, sans-serif" stroke="#000" stroke-width="0.33" font-size="19" ><tspan y="0">(a)</tspan></text>
<text transform="translate(96.0 320.2) scale(1.0 1)" font-family="Liberation Sans, sans-serif" stroke="#000" stroke-width="0.33" font-size="18.5" ><tspan y="0">(b)</tspan></text>
<text transform="translate(123.5 58) scale(1.045 1)" font-family="Liberation Sans, sans-serif" stroke="#000" stroke-width="0.33" font-size="15.3" ><tspan y="0" font-family="Liberation Serif, serif" font-style="italic" font-size="15">&#957;</tspan><tspan y="5.8" dx="-0.9" font-size="9.2" font-weight="bold">1</tspan><tspan y="0"> + </tspan><tspan y="0" font-family="Liberation Serif, serif" font-style="italic" font-size="15">&#957;</tspan><tspan y="5.8" dx="-0.9" font-size="9.2" font-weight="bold">3</tspan><tspan y="0">(CO</tspan><tspan y="5.8" font-size="9.2" font-weight="bold">2</tspan><tspan y="0">)</tspan></text>
<text transform="translate(138.6 89.8) scale(1.045 1)" font-family="Liberation Sans, sans-serif" stroke="#000" stroke-width="0.33" font-size="15.3" ><tspan y="0">2</tspan><tspan y="0" dx="1.0" font-family="Liberation Serif, serif" font-style="italic" font-size="15">&#957;</tspan><tspan y="5.8" dx="-0.9" font-size="9.2" font-weight="bold">2</tspan><tspan y="0"> + </tspan><tspan y="0" font-family="Liberation Serif, serif" font-style="italic" font-size="15">&#957;</tspan><tspan y="5.8" dx="-0.9" font-size="9.2" font-weight="bold">3</tspan><tspan y="0">(CO</tspan><tspan y="5.8" font-size="9.2" font-weight="bold">2</tspan><tspan y="0">)</tspan></text>
<text transform="translate(327.5 28) scale(1.045 1)" font-family="Liberation Sans, sans-serif" stroke="#000" stroke-width="0.33" font-size="15.3" ><tspan y="0" font-family="Liberation Serif, serif" font-style="italic" font-size="15">&#957;</tspan><tspan y="5.8" dx="-0.9" font-size="9.2" font-weight="bold">3</tspan><tspan y="0">(CO</tspan><tspan y="5.8" font-size="9.2" font-weight="bold">2</tspan><tspan y="0">)</tspan></text>
<text transform="translate(346.3 60) scale(1.045 1)" font-family="Liberation Sans, sans-serif" stroke="#000" stroke-width="0.33" font-size="15.3" ><tspan y="0" font-family="Liberation Serif, serif" font-style="italic" font-size="15">&#957;</tspan><tspan y="5.8" dx="-0.9" font-size="9.2" font-weight="bold">1</tspan><tspan y="0">(CO</tspan><tspan y="5.8" font-size="9.2" font-weight="bold">3</tspan><tspan y="0">)</tspan></text>
<text transform="translate(361.8 103) scale(1.045 1)" font-family="Liberation Sans, sans-serif" stroke="#000" stroke-width="0.33" font-size="15.3" ><tspan y="0" font-family="Liberation Serif, serif" font-style="italic" font-size="15">&#957;</tspan><tspan y="5.8" dx="-0.9" font-size="9.2" font-weight="bold">1</tspan><tspan y="0">(CO)</tspan></text>
<text transform="translate(468.3 90) scale(1.045 1)" font-family="Liberation Sans, sans-serif" stroke="#000" stroke-width="0.33" font-size="15.3" ><tspan y="0" font-family="Liberation Serif, serif" font-style="italic" font-size="15">&#957;</tspan><tspan y="5.8" dx="-0.9" font-size="9.2" font-weight="bold">3</tspan><tspan y="0">(O</tspan><tspan y="5.8" font-size="9.2" font-weight="bold">3</tspan><tspan y="0">)</tspan></text>
<text transform="translate(509.6 48.7) scale(1.045 1)" font-family="Liberation Sans, sans-serif" stroke="#000" stroke-width="0.33" font-size="15.3" ><tspan y="0" font-family="Liberation Serif, serif" font-style="italic" font-size="15">&#957;</tspan><tspan y="5.8" dx="-0.9" font-size="9.2" font-weight="bold">2</tspan><tspan y="0">(CO</tspan><tspan y="5.8" font-size="9.2" font-weight="bold">2</tspan><tspan y="0">)</tspan></text>
<text transform="translate(147.3 161) scale(1.045 1)" font-family="Liberation Sans, sans-serif" stroke="#000" stroke-width="0.33" font-size="15.3" ><tspan y="0">After Irradiation</tspan></text>
<text transform="translate(148.0 227.2) scale(1.045 1)" font-family="Liberation Sans, sans-serif" stroke="#000" stroke-width="0.33" font-size="15.3" ><tspan y="0">Before Irradiation</tspan></text>
<text transform="translate(253.6 180.8) scale(1.045 1)" font-family="Liberation Sans, sans-serif" stroke="#000" stroke-width="0.33" font-size="15.3" ><tspan y="0" font-family="Liberation Serif, serif" font-style="italic" font-size="15">&#957;</tspan><tspan y="5.8" dx="-0.9" font-size="9.2" font-weight="bold">L</tspan><tspan y="0">(CO</tspan><tspan y="5.8" font-size="9.2" font-weight="bold">2</tspan><tspan y="0">)</tspan></text>
<text transform="translate(328.3 166.3) scale(1.045 1)" font-family="Liberation Sans, sans-serif" stroke="#000" stroke-width="0.33" font-size="15.3" ><tspan y="0" font-family="Liberation Serif, serif" font-style="italic" font-size="15">&#957;</tspan><tspan y="5.8" dx="-0.9" font-size="9.2" font-weight="bold">3</tspan><tspan y="0">(</tspan><tspan y="-7.2" font-size="7.8" font-weight="bold">13</tspan><tspan y="0">CO</tspan><tspan y="5.8" font-size="9.2" font-weight="bold">2</tspan><tspan y="0">)</tspan></text>
<text transform="translate(116.3 345.0) scale(1.045 1)" font-family="Liberation Sans, sans-serif" stroke="#000" stroke-width="0.33" font-size="15.3" ><tspan y="0" font-family="Liberation Serif, serif" font-style="italic" font-size="15">&#957;</tspan><tspan y="5.8" dx="-0.9" font-size="9.2" font-weight="bold">1</tspan><tspan y="0">/</tspan><tspan y="0" dx="2" font-family="Liberation Serif, serif" font-style="italic" font-size="15">&#957;</tspan><tspan y="5.8" dx="-0.9" font-size="9.2" font-weight="bold">3</tspan><tspan y="0">(D</tspan><tspan y="5.8" font-size="9.2" font-weight="bold">2</tspan><tspan y="0">O)</tspan></text>
<text transform="translate(203.0 317) scale(1.045 1)" font-family="Liberation Sans, sans-serif" stroke="#000" stroke-width="0.33" font-size="15.3" ><tspan y="0" font-family="Liberation Serif, serif" font-style="italic" font-size="17.5">&#957;</tspan><tspan y="0" dx="2.6">(D-O)</tspan></text>
<text transform="translate(312.7 317) scale(1.045 1)" font-family="Liberation Sans, sans-serif" stroke="#000" stroke-width="0.33" font-size="15.3" ><tspan y="0" font-family="Liberation Serif, serif" font-style="italic" font-size="17.5">&#957;</tspan><tspan y="0" dx="2.6">(C=O)</tspan></text>
<text transform="translate(367.3 335.8) scale(1.045 1)" font-family="Liberation Sans, sans-serif" stroke="#000" stroke-width="0.33" font-size="15.3" ><tspan y="0" font-family="Liberation Serif, serif" font-style="italic" font-size="17.5">&#957;</tspan><tspan y="5.8" dx="1.8" font-size="9.2" font-weight="bold">a</tspan><tspan y="0">(C-OD)</tspan></text>
<text transform="translate(418.3 371.5) scale(1.045 1)" font-family="Liberation Sans, sans-serif" stroke="#000" stroke-width="0.33" font-size="15.3" ><tspan y="0" font-family="Liberation Serif, serif" font-style="italic" font-size="17.5">&#948;</tspan><tspan y="0" dx="2.4">(C-OD)</tspan></text>
<text transform="translate(473.4 335.8) scale(1.045 1)" font-family="Liberation Sans, sans-serif" stroke="#000" stroke-width="0.33" font-size="15.3" ><tspan y="0" font-family="Liberation Serif, serif" font-style="italic" font-size="17.5">&#957;</tspan><tspan y="5.8" dx="1.8" font-size="9.2" font-weight="bold">s</tspan><tspan y="0">(C-OD)</tspan></text>
<text transform="translate(528.3 369) scale(1.045 1)" font-family="Liberation Sans, sans-serif" stroke="#000" stroke-width="0.33" font-size="15.3" ><tspan y="0" font-family="Liberation Serif, serif" font-style="italic" font-size="17.5">&#948;</tspan><tspan y="0" dx="2.4">(CO</tspan><tspan y="5.8" font-size="9.2" font-weight="bold">3</tspan><tspan y="0">)</tspan></text>
<text transform="translate(119.7 428.4) scale(1.045 1)" font-family="Liberation Sans, sans-serif" stroke="#000" stroke-width="0.33" font-size="15.3" ><tspan y="0">120 K</tspan></text>
<text transform="translate(119.7 463.2) scale(1.045 1)" font-family="Liberation Sans, sans-serif" stroke="#000" stroke-width="0.33" font-size="15.3" ><tspan y="0">160 K</tspan></text>
<text transform="translate(119.0 493.7) scale(1.045 1)" font-family="Liberation Sans, sans-serif" stroke="#000" stroke-width="0.33" font-size="15.3" ><tspan y="0">200 K</tspan></text>
<text transform="translate(119.7 515.5) scale(1.045 1)" font-family="Liberation Sans, sans-serif" stroke="#000" stroke-width="0.33" font-size="15.3" ><tspan y="0">240 K</tspan></text>
<path d="M124.40 66.50V94.00 M139.60 95.00V121.00 M139.60 143.50V176.00 M349.20 65.80V90.00 M363.40 112.00V133.50 M507.40 93.50V129.50 M559.70 52.00V72.00 M559.70 143.50V179.00 M98.70 353.60V436.00 M98.70 353.60H202.30 M202.30 353.60V401.50 M211.30 321.30V459.50 M211.30 321.30H247.60 M247.60 321.30V466.00 M342.80 320.70V458.00 M397.80 340.50V432.00 M397.80 340.50H409.50 M409.40 340.70V402.00 M437.20 375.30V471.00 M509.80 339.50V469.50 M558.50 375.50V466.50" stroke="#000" stroke-width="1.45" stroke-dasharray="1.7 2.5" fill="none"/>
</svg></body></html>
